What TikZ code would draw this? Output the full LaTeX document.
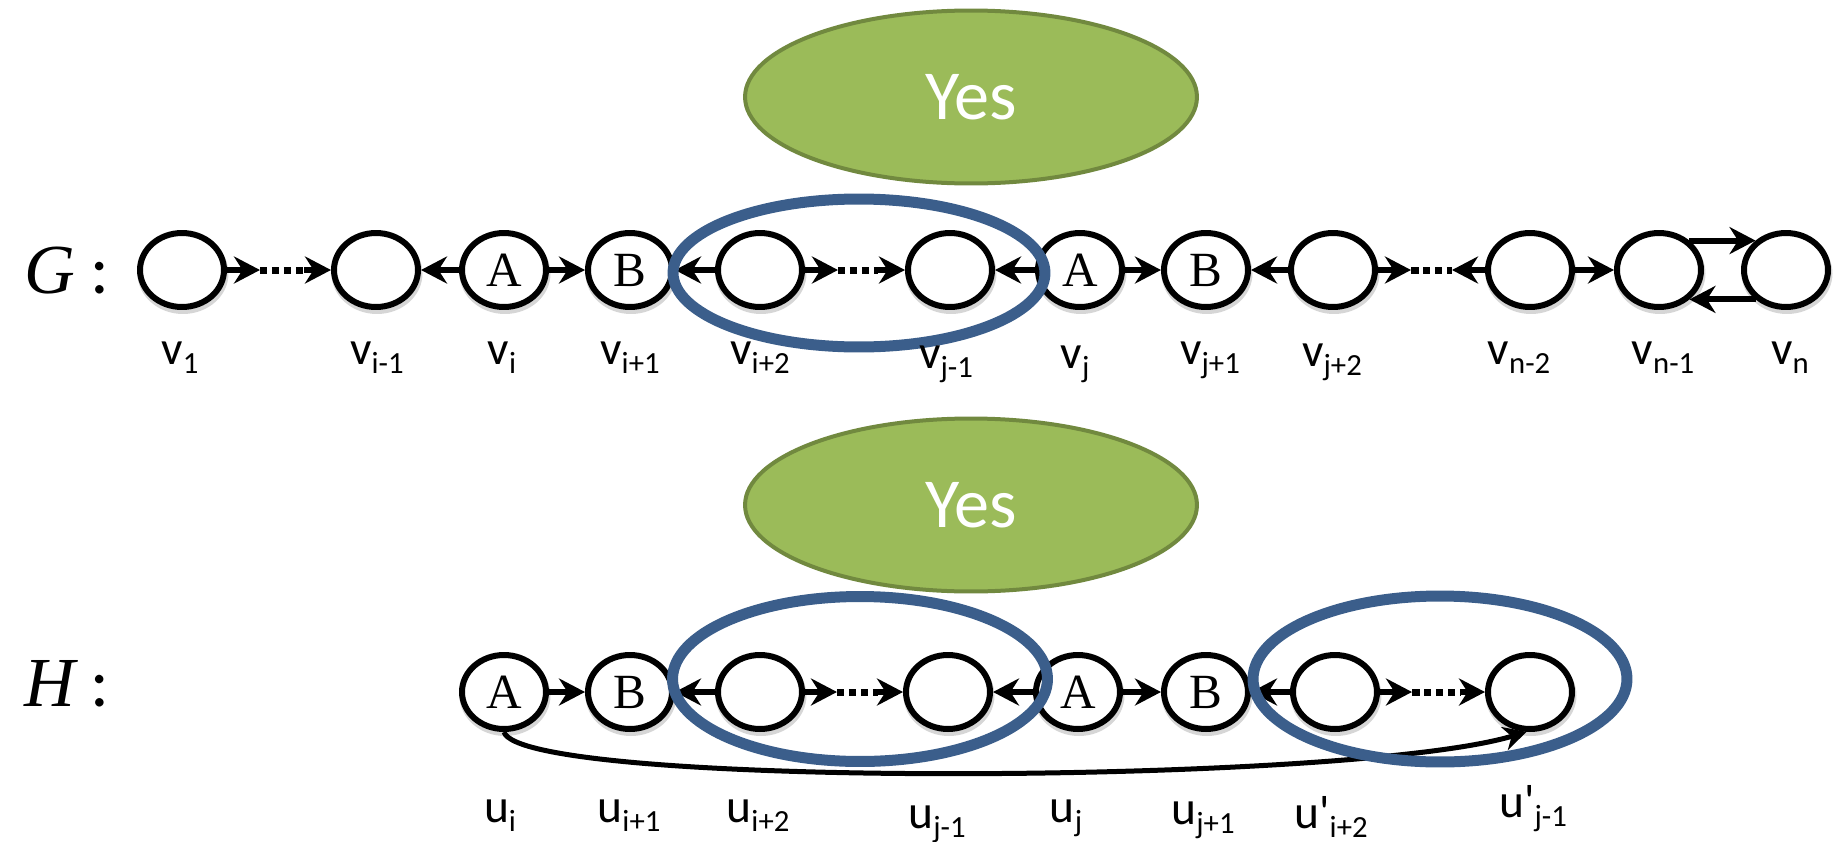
\documentclass[tikz,border=0pt]{standalone}
\usepackage{fontspec}
\usetikzlibrary{arrows.meta,shapes.geometric,calc}
\newfontfamily\labfont{Carlito}[Ligatures=TeXOff]
\newfontfamily\serfont{Liberation Serif}
\definecolor{grpblue}{RGB}{59,94,139}
\definecolor{yesfill}{RGB}{155,187,89}
\definecolor{yesline}{RGB}{113,137,63}
% vertex label: letter with a lowered subscript
\newcommand{\vlab}[2]{{\labfont\fontsize{27}{27}\selectfont #1\raisebox{-0.2em}{\fontsize{17.5}{17.5}\selectfont #2}}}
\newcommand{\glab}[1]{{\fontsize{40}{40}\selectfont{\serfont\itshape #1}\hspace{9pt}{\labfont :}}}
\begin{document}
\begin{tikzpicture}[x=0.02cm,y=-0.02cm,
  vtx/.style={ellipse, draw, line width=0.12cm, minimum width=1.68cm, minimum height=1.48cm,
    inner sep=0pt, fill=white, font=\serfont\fontsize{28}{28}\selectfont,
    preaction={draw=black!16, line width=0.14cm,
      transform canvas={xshift=0.02cm, yshift=-0.07cm}}},
  arr/.style={line width=0.12cm, -{Stealth[length=0.52cm,width=0.54cm,inset=0.17cm]}},
  curvearr/.style={line width=0.1cm, -{Stealth[length=0.46cm,width=0.48cm,inset=0.15cm]}},
  dots/.style={line width=0.14cm, dash pattern=on 0.15cm off 0.09cm},
  grp/.style={ellipse, draw=grpblue, line width=0.22cm, inner sep=0pt},
  yes/.style={ellipse, draw=yesline, fill=yesfill, line width=0.08cm, inner sep=0pt,
    minimum width=9.04cm, minimum height=3.46cm, text=white,
    font=\labfont\fontsize{40}{40}\selectfont},
  lab/.style={anchor=base, inner sep=0pt},
  big/.style={anchor=base west, inner sep=0pt}]
\useasboundingbox (0,0) rectangle (1847,842);

% ---------- graph G ----------
\node[yes] (yesG) at (971,97) {Yes};
\node[big] (Glab) at (24,293) {\glab{G}};

\node[vtx] (v1)   at (182,270) {};
\node[vtx] (vim1) at (376,270) {};
\node[vtx] (vi)   at (504,270) {A};
\node[vtx] (vip1) at (630,270) {B};
\node[vtx] (vip2) at (760,270) {};
\node[vtx] (vjm1) at (950,270) {};
\node[vtx] (vj)   at (1080,270) {A};
\node[vtx] (vjp1) at (1206,270) {B};
\node[vtx] (vjp2) at (1333,270) {};
\node[vtx] (vnm2) at (1530,270) {};
\node[vtx] (vnm1) at (1659,270) {};
\node[vtx] (vn)   at (1786,270) {};

\coordinate (d1a) at ($(v1.east)+(33,0)$);
\coordinate (d1b) at ($(vim1.west)+(-27,0)$);
\coordinate (d2a) at ($(vip2.east)+(33,0)$);
\coordinate (d2b) at ($(vjm1.west)+(-27,0)$);
\coordinate (d3a) at ($(vjp2.east)+(33,0)$);
\coordinate (d3b) at ($(vnm2.west)+(-33,0)$);

\draw[arr] (v1) -- (d1a);
\draw[dots] (d1a) -- (d1b);
\draw[arr] (d1b) -- (vim1);
\draw[arr] (vi) -- (vim1);
\draw[arr] (vi) -- (vip1);
\draw[arr] (vip2) -- (vip1);
\draw[arr] (vip2) -- (d2a);
\draw[dots] (d2a) -- (d2b);
\draw[arr] (d2b) -- (vjm1);
\draw[arr] (vj) -- (vjm1);
\draw[arr] (vj) -- (vjp1);
\draw[arr] (vjp2) -- (vjp1);
\draw[arr] (vjp2) -- (d3a);
\draw[dots] (d3a) -- (d3b);
\draw[arr] (vnm2) -- (d3b);
\draw[arr] (vnm2) -- (vnm1);
\draw[arr] (vnm1.44) -- (vn.136);
\draw[arr] (vn.-136) -- (vnm1.-44);

\node[grp, minimum width=7.44cm, minimum height=2.96cm] (grpG) at (859,273) {};

\node[lab] (lv1)   at (180,364)  {\vlab{v}{1}};
\node[lab] (lvim1) at (377,364)  {\vlab{v}{i-1}};
\node[lab] (lvi)   at (502,364)  {\vlab{v}{i}};
\node[lab] (lvip1) at (630,364)  {\vlab{v}{i+1}};
\node[lab] (lvip2) at (760,364)  {\vlab{v}{i+2}};
\node[lab] (lvjm1) at (946,368)  {\vlab{v}{j-1}};
\node[lab] (lvj)   at (1075,368) {\vlab{v}{j}};
\node[lab] (lvjp1) at (1210,364) {\vlab{v}{j+1}};
\node[lab] (lvjp2) at (1332,366) {\vlab{v}{j+2}};
\node[lab] (lvnm2) at (1519,364) {\vlab{v}{n-2}};
\node[lab] (lvnm1) at (1663,364) {\vlab{v}{n-1}};
\node[lab] (lvn)   at (1790,364) {\vlab{v}{n}};

% ---------- graph H ----------
\node[yes] (yesH) at (971,505) {Yes};
\node[big] (Hlab) at (24,706) {\glab{H}};

\node[vtx] (ui)    at (504,692) {A};
\node[vtx] (uip1)  at (630,692) {B};
\node[vtx] (uip2)  at (760,692) {};
\node[vtx] (ujm1)  at (948,692) {};
\node[vtx] (uj)    at (1078,692) {A};
\node[vtx] (ujp1)  at (1206,692) {B};
\node[vtx] (upip2) at (1335,692) {};
\node[vtx] (upjm1) at (1530,692) {};

\coordinate (e1a) at ($(uip2.east)+(32,0)$);
\coordinate (e1b) at ($(ujm1.west)+(-25,0)$);
\coordinate (e2a) at ($(upip2.east)+(32,0)$);
\coordinate (e2b) at ($(upjm1.west)+(-25,0)$);

\draw[arr] (ui) -- (uip1);
\draw[arr] (uip2) -- (uip1);
\draw[arr] (uip2) -- (e1a);
\draw[dots] (e1a) -- (e1b);
\draw[arr] (e1b) -- (ujm1);
\draw[arr] (uj) -- (ujm1);
\draw[arr] (uj) -- (ujp1);
\draw[arr] (upip2) -- (ujp1);
\draw[arr] (upip2) -- (e2a);
\draw[dots] (e2a) -- (e2b);
\draw[arr] (e2b) -- (upjm1);
\draw[curvearr] (ui.south) .. controls +(17,57) and +(-177,53) .. (upjm1.-95);

\node[grp, minimum width=7.5cm, minimum height=3.3cm] (grpH1) at (860,679) {};
\node[grp, minimum width=7.48cm, minimum height=3.32cm] (grpH2) at (1440,679) {};

\node[lab] (lui)    at (500,822)  {\vlab{u}{i}};
\node[lab] (luip1)  at (629,822)  {\vlab{u}{i+1}};
\node[lab] (luip2)  at (758,822)  {\vlab{u}{i+2}};
\node[lab] (lujm1)  at (937,828)  {\vlab{u}{j-1}};
\node[lab] (luj)    at (1066,822) {\vlab{u}{j}};
\node[lab] (lujp1)  at (1203,824) {\vlab{u}{j+1}};
\node[lab] (lupip2) at (1331,828) {\vlab{u'}{i+2}};
\node[lab] (lupjm1) at (1533,817) {\vlab{u'}{j-1}};
\end{tikzpicture}
\end{document}
